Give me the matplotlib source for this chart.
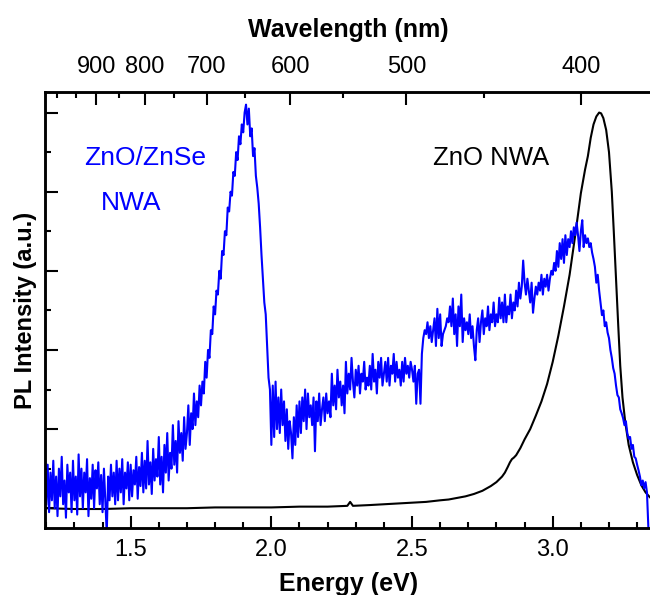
import numpy as np
import matplotlib
matplotlib.use("Agg")
import matplotlib.pyplot as plt
from matplotlib.ticker import MultipleLocator, FixedLocator, NullFormatter

plt.rcParams['font.family'] = ['Liberation Sans', 'DejaVu Sans']

HC = 1239.84  # eV*nm

# ZnO/ZnSe NWA spectrum, sampled every 5 meV from 1.200 eV
blue_start, blue_step = 1.200, 0.005
blue_intensity = [
    0.05, 0.55, -0.05, 0.45, 0.10, 0.60, 0.00, 0.40, -0.10, 0.50,
    0.15, 0.65, 0.05, 0.35, -0.12, 0.55, 0.20, 0.45, -0.05, 0.60,
    0.10, 0.40, -0.08, 0.68, 0.15, 0.50, 0.00, 0.45, 0.20, 0.62,
    -0.10, 0.38, 0.12, 0.55, 0.00, 0.48, 0.25, 0.58, 0.05, 0.42,
    -0.05, 0.50, 0.10, -0.32, 0.40, 0.10, 0.55, 0.15, 0.45, 0.05,
    0.60, 0.10, 0.50, 0.20, 0.62, 0.05, 0.45, 0.25, 0.58, 0.10,
    0.55, 0.15, 0.48, 0.30, 0.65, 0.12, 0.52, 0.28, 0.70, 0.20,
    0.60, 0.25, 0.85, 0.30, 0.58, 0.18, 0.75, 0.35, 0.62, 0.40,
    0.90, 0.30, 0.65, 0.20, 0.80, 0.45, 0.95, 0.35, 0.70, 0.50,
    1.05, 0.55, 0.85, 0.45, 1.10, 0.70, 0.95, 0.60, 1.15, 0.75,
    0.95, 1.30, 0.80, 1.20, 1.00, 1.45, 1.05, 1.35, 1.15, 1.55,
    1.30, 1.60, 1.45, 1.85, 1.65, 2.00, 1.90, 2.25, 2.20, 2.55,
    2.45, 2.75, 2.70, 3.00, 2.90, 3.25, 3.20, 3.50, 3.45, 3.80,
    3.75, 4.00, 3.95, 4.25, 4.20, 4.50, 4.40, 4.70, 4.60, 4.85,
    4.75, 5.00, 5.10, 4.85, 5.05, 4.70, 4.80, 4.45, 4.55, 4.20,
    4.05, 3.85, 3.55, 3.20, 2.90, 2.60, 2.45, 2.05, 1.65, 1.50,
    0.80, 1.55, 0.90, 1.60, 1.00, 1.40, 0.95, 1.50, 1.05, 1.35,
    0.85, 1.25, 0.75, 1.10, 0.95, 0.63, 1.15, 0.80, 1.30, 0.90,
    1.35, 0.95, 1.40, 1.10, 1.50, 1.00, 1.45, 1.15, 1.30, 1.05,
    1.40, 0.72, 1.35, 1.10, 1.45, 1.05, 1.25, 1.40, 1.10, 1.45,
    1.20, 1.35, 1.15, 1.70, 1.30, 1.55, 1.25, 1.75, 1.40, 1.60,
    1.30, 1.55, 1.20, 1.85, 1.45, 1.70, 1.50, 1.90, 1.60, 1.40,
    1.75, 1.55, 1.80, 1.45, 1.70, 1.60, 1.85, 1.50, 1.65, 1.55,
    1.80, 1.50, 1.95, 1.60, 1.75, 1.45, 1.85, 1.65, 1.90, 1.55,
    1.70, 1.85, 1.60, 1.90, 1.55, 1.80, 1.70, 1.95, 1.60, 1.85,
    1.65, 1.75, 1.55, 1.85, 1.60, 1.90, 1.70, 1.80, 1.65, 1.85,
    1.75, 1.60, 1.80, 1.32, 1.70, 1.75, 1.32, 1.95, 2.15, 2.25,
    2.20, 2.35, 2.15, 2.30, 2.10, 2.25, 2.40, 2.05, 2.52, 2.15,
    2.45, 2.05, 2.20, 2.25, 2.30, 2.40, 2.35, 2.55, 2.30, 2.65,
    2.20, 2.45, 2.05, 2.55, 2.30, 2.70, 2.10, 2.40, 2.25, 2.35,
    2.20, 2.45, 2.15, 2.30, 2.05, 1.87, 2.25, 2.40, 2.10, 2.35,
    2.50, 2.20, 2.40, 2.30, 2.55, 2.25, 2.45, 2.35, 2.60, 2.30,
    2.45, 2.35, 2.66, 2.40, 2.60, 2.35, 2.70, 2.35, 2.55, 2.45,
    2.70, 2.40, 2.60, 2.50, 2.75, 2.55, 2.85, 2.65, 2.80, 3.13,
    2.85, 2.70, 2.90, 2.75, 2.60, 2.85, 2.47, 2.65, 2.80, 2.70,
    2.85, 2.75, 2.95, 2.70, 2.90, 2.80, 2.95, 2.75, 2.90, 3.00,
    2.95, 3.10, 3.00, 3.25, 3.05, 3.35, 3.15, 3.40, 3.10, 3.45,
    3.20, 3.40, 3.30, 3.50, 3.35, 3.55, 3.45, 3.61, 3.45, 3.25,
    3.50, 3.64, 3.30, 3.45, 3.35, 3.41, 3.30, 3.35, 3.23, 3.15,
    3.05, 2.85, 2.95, 2.75, 2.60, 2.44, 2.50, 2.30, 2.35, 2.22,
    2.15, 2.00, 1.90, 1.77, 1.70, 1.55, 1.43, 1.40, 1.25, 1.20,
    1.14, 1.05, 1.10, 0.95, 0.88, 0.90, 0.75, 0.80, 0.65, 0.63,
    0.55, 0.48, 0.40, 0.29, 0.35, 0.25, 0.33, 0.20, -0.25, -0.30,
    -0.35,
]
blue_energy = blue_start + blue_step * np.arange(len(blue_intensity))

# ZnO NWA spectrum
black_energy = [1.20, 1.30, 1.40, 1.50, 1.60, 1.70, 1.80, 1.90, 2.00, 2.10,
                2.20, 2.27, 2.28, 2.29, 2.35, 2.40, 2.50, 2.55, 2.60, 2.63,
                2.66, 2.69, 2.72, 2.75, 2.78, 2.80, 2.82, 2.83, 2.84, 2.848,
                2.855, 2.862, 2.87, 2.885, 2.90, 2.92, 2.94, 2.96, 2.98, 3.00,
                3.02, 3.04, 3.06, 3.08, 3.10, 3.115, 3.125, 3.135, 3.145, 3.155,
                3.165, 3.172, 3.18, 3.19, 3.20, 3.21, 3.217, 3.225, 3.233, 3.24,
                3.248, 3.258, 3.27, 3.285, 3.30, 3.315, 3.33, 3.345, 3.355]
black_intensity = [0.00, -0.01, -0.01, 0.00, 0.00, 0.00, 0.01, 0.01, 0.01, 0.02,
                   0.02, 0.03, 0.08, 0.03, 0.04, 0.05, 0.07, 0.08, 0.10, 0.11,
                   0.13, 0.15, 0.18, 0.22, 0.28, 0.33, 0.40, 0.45, 0.52, 0.58,
                   0.62, 0.64, 0.67, 0.76, 0.87, 1.00, 1.17, 1.35, 1.57, 1.85,
                   2.18, 2.55, 2.95, 3.45, 3.98, 4.28, 4.45, 4.68, 4.85, 4.95,
                   5.00, 4.99, 4.93, 4.78, 4.50, 4.00, 3.50, 2.90, 2.30, 1.80,
                   1.40, 1.08, 0.80, 0.58, 0.42, 0.29, 0.20, 0.14, 0.11]

wl_major = [900, 800, 700, 600, 500, 400]
wl_minor = [1000, 950, 850, 750, 650, 550, 450]

fig = plt.figure(figsize=(6.5, 5.95), dpi=100)
ax = fig.add_axes([0.069, 0.1126, 0.935, 0.7328])

ax.plot(black_energy, black_intensity, color='black', lw=1.5)
ax.plot(blue_energy, blue_intensity, color='#0000ff', lw=1.5)

ax.set_xlim(1.195, 3.355)
ax.set_ylim(-0.25, 5.26)
ax.xaxis.set_major_locator(MultipleLocator(0.5))
ax.xaxis.set_minor_locator(MultipleLocator(0.1))
ax.yaxis.set_major_locator(MultipleLocator(1))
ax.yaxis.set_minor_locator(MultipleLocator(0.5))
ax.yaxis.set_major_formatter(NullFormatter())
ax.tick_params(which='both', direction='in', width=1.5, top=False, right=False)
ax.tick_params(which='major', length=9, labelsize=17, pad=8)
ax.tick_params(which='minor', length=4.5)
for s in ax.spines.values():
    s.set_linewidth(1.8)
ax.spines['right'].set_visible(False)

ax.set_xlabel('Energy (eV)', fontsize=18, fontweight='bold', labelpad=8)
ax.set_ylabel('PL Intensity (a.u.)', fontsize=17, fontweight='bold', labelpad=-2)

ax2 = ax.twiny()
ax2.set_xlim(ax.get_xlim())
ax2.xaxis.set_major_locator(FixedLocator([HC / w for w in wl_major]))
ax2.xaxis.set_minor_locator(FixedLocator([HC / w for w in wl_minor]))
ax2.set_xticklabels([str(w) for w in wl_major])
ax2.tick_params(which='both', direction='in', width=1.5)
ax2.tick_params(which='major', length=9, labelsize=17, pad=10)
ax2.tick_params(which='minor', length=4.5)
for s in ax2.spines.values():
    s.set_linewidth(1.8)
ax2.spines['right'].set_visible(False)
ax2.set_xlabel('Wavelength (nm)', fontsize=18, fontweight='bold', labelpad=14)

ax.text(1.55, 4.42, 'ZnO/ZnSe', color='#0000ff', fontsize=19, ha='center', va='center')
ax.text(1.50, 3.86, 'NWA', color='#0000ff', fontsize=19, ha='center', va='center')
ax.text(2.78, 4.42, 'ZnO NWA', color='black', fontsize=18.5, ha='center', va='center')

fig.savefig('out.png', dpi=100)
